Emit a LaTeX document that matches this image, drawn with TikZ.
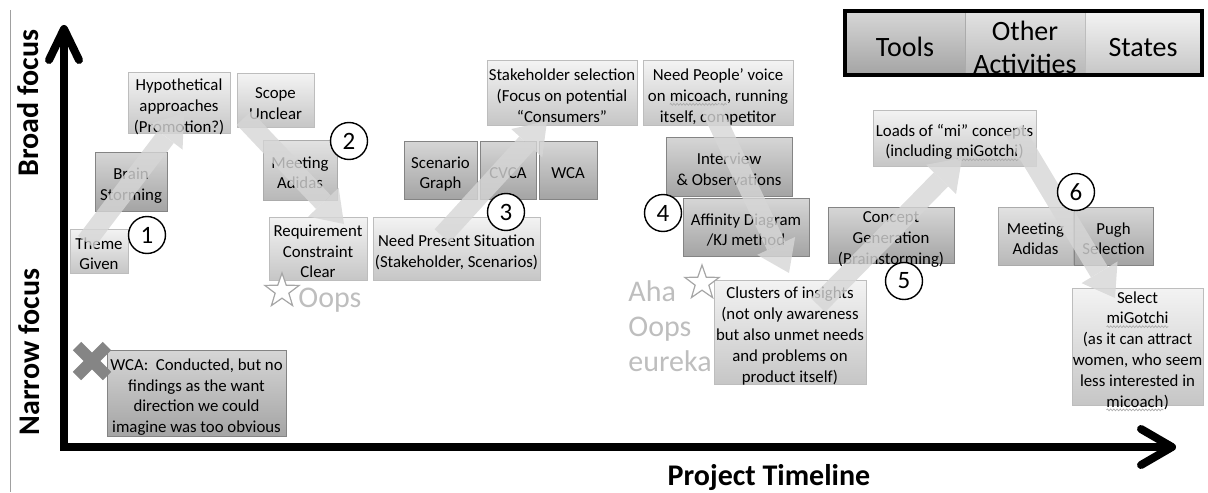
\documentclass[tikz,border=0pt]{standalone}
\usepackage{fontspec}
\setmainfont{Carlito}
\usetikzlibrary{arrows.meta,fit,shapes.geometric,decorations.pathmorphing,calc}

% palette
\definecolor{statetop}{HTML}{F3F3F3}
\definecolor{statebot}{HTML}{C6C6C6}
\definecolor{stateline}{HTML}{BDBDBD}
\definecolor{tooltop}{HTML}{D6D6D6}
\definecolor{toolbot}{HTML}{A4A4A4}
\definecolor{toolline}{HTML}{848484}
\definecolor{othertop}{HTML}{E2E2E2}
\definecolor{otherbot}{HTML}{B8B8B8}
\definecolor{otherline}{HTML}{ABABAB}
\definecolor{flowgray}{HTML}{D6D6D6}
\definecolor{ahagray}{HTML}{BEBEBE}
\definecolor{crossgray}{HTML}{858585}
\definecolor{frameline}{HTML}{A0A0A0}

% centred multi-line text that does not enlarge its box
\newcommand\boxlines[1]{\smash{\raisebox{-0.5em}{\begin{tabular}{@{}c@{}}#1\end{tabular}}}}
% spell-checker style wavy underline
\newcommand\squig[1]{\tikz[baseline=(w.base)]{\node[inner sep=0pt,outer sep=0pt] (w) {#1};
  \draw[gray!65, line width=0.35pt, decorate, decoration={snake, amplitude=0.45pt, segment length=1.6pt}]
    ([yshift=-1.4pt]w.base west) -- ([yshift=-1.4pt]w.base east);}}

\tikzset{
  boxbase/.style={rectangle, inner sep=0pt, line width=0.5pt, text=black,
    font=\fontsize{8.4}{10.4}\selectfont},
  statebox/.style={boxbase, draw=stateline, top color=statetop, bottom color=statebot},
  toolbox/.style={boxbase, draw=toolline, top color=tooltop, bottom color=toolbot},
  otherbox/.style={boxbase, draw=otherline, top color=othertop, bottom color=otherbot},
  legendfont/.style={font=\fontsize{14}{16.5}\selectfont},
  stepnum/.style={circle, draw=black, line width=0.7pt, fill=white, minimum size=18.5pt,
    inner sep=0pt, font=\fontsize{12.5}{14}\selectfont},
  flow/.style={draw=flowgray, line width=10pt,
    -{Triangle[length=15pt, width=21pt, line width=0pt]}},
  axisline/.style={line width=4pt, black},
  axislabel/.style={inner sep=0pt, font=\bfseries\fontsize{15}{18}\selectfont},
  ahatext/.style={inner sep=0pt, text=ahagray, font=\fontsize{15}{17.7}\selectfont},
  insight/.style={star, star points=5, star point ratio=2.5, draw=gray!70, line width=0.6pt,
    fill=white, minimum size=18pt, inner sep=0pt},
  crossmark/.style={line width=6pt, crossgray}
}

\begin{document}
\begin{tikzpicture}[x=0.5pt, y=-0.5pt]
\useasboundingbox (0,0) rectangle (1208,492);

% thin frame edge on the left
\draw[frameline, line width=0.5pt] (10,10) -- (10,492);

% axes
\coordinate (origin) at (64,447);
\coordinate (ytip) at (64,29);
\coordinate (xtip) at (1172,447);
\draw[axisline, line join=miter] (ytip) -- (origin) -- (xtip);
\draw[axisline, line join=round, line cap=round]
  ($(ytip)+(-15,31)$) -- (ytip) -- ($(ytip)+(15,31)$);
\draw[axisline, line join=round, line cap=round]
  ($(xtip)+(-31,-18)$) -- (xtip) -- ($(xtip)+(-31,18)$);

\node[axislabel, rotate=90] (broad) at (28,103) {Broad focus};
\node[axislabel, rotate=90] (narrow) at (29,352) {Narrow focus};
\node[axislabel, anchor=base] (timeline) at (769,485) {Project Timeline};

% legend
\node[toolbox, legendfont, fit={(845,12)(965,75)}] (legtools) {\boxlines{Tools}};
\node[otherbox, legendfont, fit={(965,12)(1085,75)}] (legother) {\boxlines{Other\\Activities}};
\node[statebox, legendfont, fit={(1085,12)(1201,75)}] (legstates) {\boxlines{States}};
\node[draw=black, line width=2pt, inner sep=0pt, fit=(legtools)(legstates)] (legend) {};

% phase 1
\node[statebox, fit={(70,229)(128,273)}] (theme) {\boxlines{Theme\\Given}};
\node[toolbox, fit={(95,152)(167,211)}] (brain) {\boxlines{Brain\\Storming}};
\node[statebox, fit={(128,73)(230,133)}] (hypo) {\boxlines{Hypothetical\\approaches\\(Promotion?)}};

% phase 2
\node[statebox, fit={(237,74)(314,127)}] (scope) {\boxlines{Scope\\Unclear}};
\node[otherbox, fit={(263,140)(337,200)}] (meetA) {\boxlines{Meeting\\Adidas}};
\node[statebox, fit={(269,217)(367,280)}] (req) {\boxlines{Requirement\\Constraint\\Clear}};

% phase 3
\node[statebox, fit={(373,217)(540,280)}] (present) {\boxlines{Need Present Situation\\(Stakeholder, Scenarios)}};
\node[toolbox, fit={(404,141)(477,199)}] (scen) {\boxlines{Scenario\\Graph}};
\node[toolbox, fit={(480,141)(536,199)}] (cvca) {\boxlines{CVCA}};
\node[toolbox, fit={(539,141)(597,199)}] (wca) {\boxlines{WCA}};
\node[statebox, fit={(487,61)(637,125)}] (stake) {\boxlines{Stakeholder selection\\(Focus on potential\\“Consumers”}};

% phase 4
\node[statebox, fit={(643,61)(793,125)}] (voice) {\boxlines{Need People’ voice\\on \squig{micoach}, running\\itself, competitor}};
\node[toolbox, fit={(666,137)(792,196)}] (interview) {\boxlines{Interview\\\& Observations}};
\node[toolbox, fit={(683,198)(809,256)}] (affinity) {\boxlines{Affinity Diagram\\/KJ method}};
\node[statebox, fit={(714,280)(866,384)}] (clusters) {\boxlines{Clusters of insights\\(not only awareness\\but also unmet needs\\and problems on\\product itself)}};

% phase 5
\node[toolbox, fit={(828,207)(954,263)}] (concept) {\boxlines{Concept\\Generation\\(Brainstorming)}};
\node[statebox, fit={(873,110)(1036,166)}] (loads) {\boxlines{Loads of “mi” concepts\\(including \squig{miGotchi})}};

% phase 6
\node[otherbox, fit={(998,207)(1073,265)}] (meetB) {\boxlines{Meeting\\Adidas}};
\node[toolbox, fit={(1074,207)(1153,265)}] (pugh) {\boxlines{Pugh\\Selection}};
\node[statebox, fit={(1072,288)(1203,405)}] (select) {\boxlines{Select\\\squig{miGotchi}\\(as it can attract\\women, who seem\\less interested in\\\squig{micoach})}};

% failed attempt
\node[toolbox, fit={(107,350)(286,436)}] (wcanote) {\boxlines{WCA:\ \ Conducted, but no\\findings as the want\\direction we could\\imagine was too obvious}};
\coordinate (xmark) at (92,361);
\draw[crossmark] ($(xmark)+(-15,-15)$) -- ($(xmark)+(15,15)$);
\draw[crossmark] ($(xmark)+(-15,15)$) -- ($(xmark)+(15,-15)$);

% focus shifts
\coordinate (f1s) at (86,242);   \coordinate (f1e) at (184,113);
\coordinate (f2s) at (244,118);  \coordinate (f2e) at (344,224);
\coordinate (f3s) at (442,236);  \coordinate (f3e) at (547,121);
\coordinate (f4s) at (711,108);  \coordinate (f4e) at (789,273);
\coordinate (f5s) at (818,305);  \coordinate (f5e) at (962,158);
\coordinate (f6s) at (1014,130); \coordinate (f6e) at (1115,298);
\begin{scope}[transparency group, opacity=0.8]
  \draw[flow] (f1s) -- (f1e);
  \draw[flow] (f2s) -- (f2e);
  \draw[flow] (f3s) -- (f3e);
  \draw[flow] (f4s) -- (f4e);
  \draw[flow] (f5s) -- (f5e);
  \draw[flow] (f6s) -- (f6e);
\end{scope}

% insight moments
\node[insight] (star1) at (282,291) {};
\node[ahatext, anchor=base west] (oops) at (298,307) {Oops};
\node[insight] (star2) at (702,283) {};
\node[ahatext, anchor=base west] (aha) at (628,301) {\begin{tabular}[t]{@{}l@{}}Aha\\Oops\\eureka\end{tabular}};

% step numbers
\node[stepnum] (s1) at (147,235) {1};
\node[stepnum] (s2) at (349,141) {2};
\node[stepnum] (s3) at (506,212) {3};
\node[stepnum] (s4) at (663,213) {4};
\node[stepnum] (s5) at (904,281) {5};
\node[stepnum] (s6) at (1076,192) {6};
\end{tikzpicture}
\end{document}
